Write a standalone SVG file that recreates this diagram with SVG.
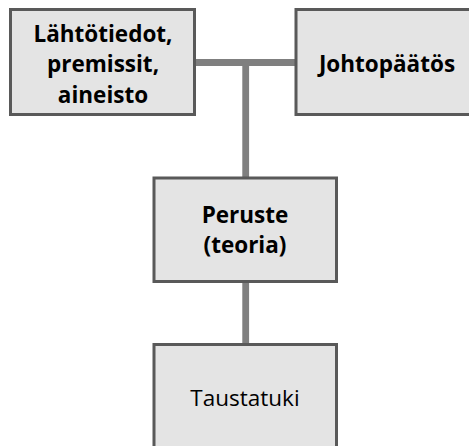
<svg xmlns="http://www.w3.org/2000/svg" width="469" height="446" viewBox="0 0 469 446">
<style>
.box{fill:#e4e4e4;stroke:#595959;stroke-width:3}
.conn{stroke:#7f7f7f;stroke-width:6.8;fill:none}
.t{font-family:"Open Sans","Noto Sans","Liberation Sans",sans-serif;font-size:22.5px;fill:#000;text-anchor:middle}
.b{font-weight:bold}
</style>
<rect width="469" height="446" fill="#ffffff"/>
<g id="connectors">
<path class="conn" d="M194.5,62.5 H296 M245.7,62.5 V178 M245.7,281.5 V344.5"/>
</g>
<g id="lahtotiedot">
<rect class="box" x="10.5" y="9.5" width="184" height="105"/>
<text class="t b" x="103" y="41.7">Lähtötiedot,</text>
<text class="t b" x="103" y="72">premissit,</text>
<text class="t b" x="103" y="102.5">aineisto</text>
</g>
<g id="johtopaatos">
<rect class="box" x="296" y="9.5" width="184" height="105"/>
<text class="t b" x="387" y="71.7">Johtopäätös</text>
</g>
<g id="peruste">
<rect class="box" x="154" y="178" width="182.5" height="103.5"/>
<text class="t b" x="245" y="223">Peruste</text>
<text class="t b" x="245" y="252.5">(teoria)</text>
</g>
<g id="taustatuki">
<rect class="box" x="154" y="344.5" width="182.5" height="110"/>
<text class="t" x="245" y="406">Taustatuki</text>
</g>
</svg>
